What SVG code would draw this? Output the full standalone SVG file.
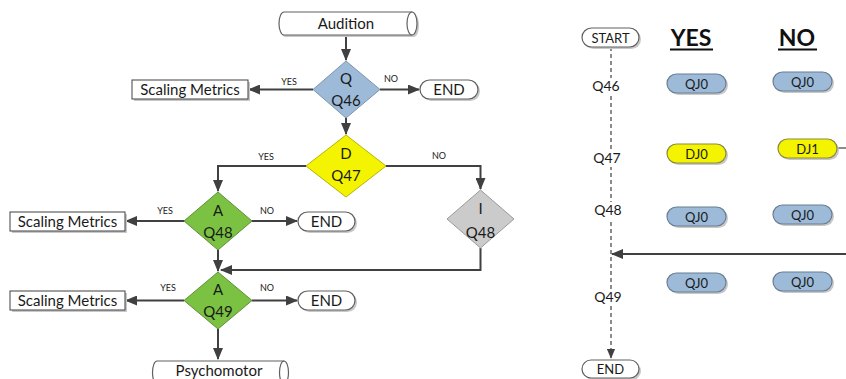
<svg xmlns="http://www.w3.org/2000/svg" width="846" height="379" viewBox="0 0 846 379">
<defs>
<marker id="ah" viewBox="0 0 12 10" refX="11" refY="5" markerWidth="12" markerHeight="10" markerUnits="userSpaceOnUse" orient="auto">
<path d="M0,0 L12,5 L0,10 Z" fill="#404040"/>
</marker>
<marker id="ahs" viewBox="0 0 12 10" refX="11" refY="5" markerWidth="10" markerHeight="9" markerUnits="userSpaceOnUse" orient="auto">
<path d="M0,0 L12,5 L0,10 Z" fill="#404040"/>
</marker>
</defs>
<style>
text{font-family:Lato,"Open Sans","Liberation Sans",sans-serif;fill:#1a1a1a}
.t{font-size:15px;text-anchor:middle}
.s{font-size:9px;text-anchor:middle}
.m{font-size:14px;text-anchor:middle}
.p{font-size:13px;text-anchor:middle}
.h{font-size:23px;font-weight:bold;text-anchor:middle;fill:#111}
.ln{fill:none;stroke:#404040;stroke-width:2}
.sh{fill:#c8c8c8;stroke:none}
.box{fill:#fff;stroke:#404040;stroke-width:1}
.pill{fill:#fff;stroke:#606060;stroke-width:1.2}
.blue{fill:#9dbbd9;stroke:#6b7f94;stroke-width:1.2}
.yel{fill:#f4f400;stroke:#8a8a40;stroke-width:1.2}
.grn{fill:#7cc242;stroke:#5e8f3a;stroke-width:1}
.gry{fill:#cbcbcb;stroke:#9a9a9a;stroke-width:1}
.dq{fill:#9dbbd9;stroke:#7d95ad;stroke-width:1}
.dy{fill:#f4f400;stroke:#b5b500;stroke-width:1}
</style>

<g id="connectors">
<path class="ln" d="M346,35 V60" marker-end="url(#ah)"/>
<path class="ln" d="M313,89.5 H249" marker-end="url(#ah)"/>
<path class="ln" d="M380,89.5 H419" marker-end="url(#ah)"/>
<path class="ln" d="M346,118 V134" marker-end="url(#ah)"/>
<path class="ln" d="M306,166 H218 V191" marker-end="url(#ah)"/>
<path class="ln" d="M386,166 H480.5 V189" marker-end="url(#ah)"/>
<path class="ln" d="M184,221 H126" marker-end="url(#ah)"/>
<path class="ln" d="M252,221 H297" marker-end="url(#ah)"/>
<path class="ln" d="M218,250 V271" marker-end="url(#ah)"/>
<path class="ln" d="M480.5,248 V270 H221" marker-end="url(#ah)"/>
<path class="ln" d="M184,300.5 H126" marker-end="url(#ah)"/>
<path class="ln" d="M252,300.5 H297" marker-end="url(#ah)"/>
<path class="ln" d="M218,329 V359" marker-end="url(#ah)"/>
<path d="M611,47 V358" fill="none" stroke="#404040" stroke-width="1.2" stroke-dasharray="4,3" marker-end="url(#ahs)"/>
<path class="ln" d="M846,254 H612" marker-end="url(#ah)"/>
<path d="M837,148 H846" fill="none" stroke="#404040" stroke-width="1.2"/>
<text class="s" x="289" y="85">YES</text>
<text class="s" x="391" y="82">NO</text>
<text class="s" x="266" y="160">YES</text>
<text class="s" x="439" y="159">NO</text>
<text class="s" x="165" y="214">YES</text>
<text class="s" x="267" y="214">NO</text>
<text class="s" x="168" y="291">YES</text>
<text class="s" x="267" y="291">NO</text>
</g>

<g id="audition">
<path d="M285,14 H414 A5,11.5 0 0 1 414,37 H285 A5,11.5 0 0 1 285,14 Z" class="sh"/>
<path d="M284,12 H412 A5,11.5 0 0 1 412,35 H284 A5,11.5 0 0 1 284,12 Z" class="pill"/>
<path d="M412,12 A5,11.5 0 0 0 412,35" fill="none" stroke="#606060" stroke-width="1.2"/>
<text class="t" x="346" y="28.5">Audition</text>
</g>

<g id="q46">
<path d="M346,61 L380,89.5 L346,118 L313,89.5 Z" class="dq"/>
<text class="t" x="346" y="84">Q</text>
<text class="t" x="346" y="106">Q46</text>
</g>

<g id="sm1">
<rect x="134" y="82" width="116" height="19" class="sh"/>
<rect x="132" y="80" width="116" height="19" class="box"/>
<text class="t" x="190" y="95">Scaling Metrics</text>
</g>

<g id="end1">
<rect x="422" y="82" width="58" height="19" rx="9.5" class="sh"/>
<rect x="420" y="80" width="58" height="19" rx="9.5" class="pill"/>
<text class="t" x="449" y="95">END</text>
</g>

<g id="q47">
<path d="M346,135 L386,166 L346,197 L306,166 Z" class="dy"/>
<text class="t" x="346" y="159">D</text>
<text class="t" x="346" y="181">Q47</text>
</g>

<g id="aq48">
<path d="M218,192 L252,221 L218,250 L184,221 Z" class="grn"/>
<text class="t" x="218" y="216">A</text>
<text class="t" x="218" y="238">Q48</text>
</g>

<g id="iq48">
<path d="M480.5,190 L514,219 L480.5,248 L447,219 Z" class="gry"/>
<text class="t" x="480.5" y="214">I</text>
<text class="t" x="480.5" y="238">Q48</text>
</g>

<g id="sm2">
<rect x="12" y="214" width="115" height="19" class="sh"/>
<rect x="10" y="212" width="115" height="19" class="box"/>
<text class="t" x="67.5" y="227">Scaling Metrics</text>
</g>

<g id="end2">
<rect x="300" y="214" width="57" height="19" rx="9.5" class="sh"/>
<rect x="298" y="212" width="57" height="19" rx="9.5" class="pill"/>
<text class="t" x="326.5" y="227">END</text>
</g>

<g id="aq49">
<path d="M218,272 L252,300.5 L218,329 L184,300.5 Z" class="grn"/>
<text class="t" x="218" y="295">A</text>
<text class="t" x="218" y="317">Q49</text>
</g>

<g id="sm3">
<rect x="12" y="293" width="115" height="19" class="sh"/>
<rect x="10" y="291" width="115" height="19" class="box"/>
<text class="t" x="67.5" y="306">Scaling Metrics</text>
</g>

<g id="end3">
<rect x="300" y="293" width="57" height="19" rx="9.5" class="sh"/>
<rect x="298" y="291" width="57" height="19" rx="9.5" class="pill"/>
<text class="t" x="326.5" y="306">END</text>
</g>

<g id="psychomotor">
<path d="M157,361 H284 A4.5,11.5 0 0 1 284,384 H157 A4.5,11.5 0 0 1 157,361 Z" class="pill"/>
<path d="M284,361 A4.5,11.5 0 0 0 284,384" fill="none" stroke="#606060" stroke-width="1.2"/>
<text class="t" x="219" y="376">Psychomotor</text>
</g>

<g id="start">
<rect x="584" y="30" width="57" height="19" rx="9.5" class="sh"/>
<rect x="582" y="28" width="57" height="19" rx="9.5" class="pill"/>
<text class="p" x="610.5" y="42.5">START</text>
</g>

<g id="headers">
<text class="h" x="691" y="46">YES</text>
<rect x="670" y="48.5" width="43" height="2" fill="#111"/>
<text class="h" x="797" y="46">NO</text>
<rect x="778" y="48.5" width="39" height="2" fill="#111"/>
</g>

<g id="qlabels">
<rect x="591" y="78" width="30" height="17" fill="#fff"/>
<text class="m" x="606" y="91">Q46</text>
<rect x="592" y="150" width="30" height="17" fill="#fff"/>
<text class="m" x="607" y="163">Q47</text>
<rect x="593" y="202" width="30" height="17" fill="#fff"/>
<text class="m" x="608" y="215">Q48</text>
<rect x="593" y="289" width="30" height="17" fill="#fff"/>
<text class="m" x="608" y="302">Q49</text>
</g>

<g id="y46">
<rect x="669" y="76" width="59" height="19" rx="9.5" class="sh"/>
<rect x="667" y="74" width="59" height="19" rx="9.5" class="blue"/>
<text class="p" x="696.5" y="88.5">QJ0</text>
</g>
<g id="n46">
<rect x="775" y="74" width="59" height="19" rx="9.5" class="sh"/>
<rect x="773" y="72" width="59" height="19" rx="9.5" class="blue"/>
<text class="p" x="802.5" y="86.5">QJ0</text>
</g>
<g id="y47">
<rect x="669" y="146" width="59" height="19" rx="9.5" class="sh"/>
<rect x="667" y="144" width="59" height="19" rx="9.5" class="yel"/>
<text class="p" x="696.5" y="158.5">DJ0</text>
</g>
<g id="n47">
<rect x="780" y="141" width="59" height="19" rx="9.5" class="sh"/>
<rect x="778" y="139" width="59" height="19" rx="9.5" class="yel"/>
<text class="p" x="807.5" y="153.5">DJ1</text>
</g>
<g id="y48">
<rect x="669" y="209" width="59" height="19" rx="9.5" class="sh"/>
<rect x="667" y="207" width="59" height="19" rx="9.5" class="blue"/>
<text class="p" x="696.5" y="221.5">QJ0</text>
</g>
<g id="n48">
<rect x="775" y="207" width="59" height="19" rx="9.5" class="sh"/>
<rect x="773" y="205" width="59" height="19" rx="9.5" class="blue"/>
<text class="p" x="802.5" y="219.5">QJ0</text>
</g>
<g id="y49">
<rect x="669" y="275" width="59" height="19" rx="9.5" class="sh"/>
<rect x="667" y="273" width="59" height="19" rx="9.5" class="blue"/>
<text class="p" x="696.5" y="287.5">QJ0</text>
</g>
<g id="n49">
<rect x="775" y="274" width="59" height="19" rx="9.5" class="sh"/>
<rect x="773" y="272" width="59" height="19" rx="9.5" class="blue"/>
<text class="p" x="802.5" y="286.5">QJ0</text>
</g>

<g id="end4">
<rect x="584" y="362" width="57" height="18" rx="9" class="sh"/>
<rect x="582" y="360" width="57" height="18" rx="9" class="pill"/>
<text class="p" x="610.5" y="374">END</text>
</g>
</svg>
